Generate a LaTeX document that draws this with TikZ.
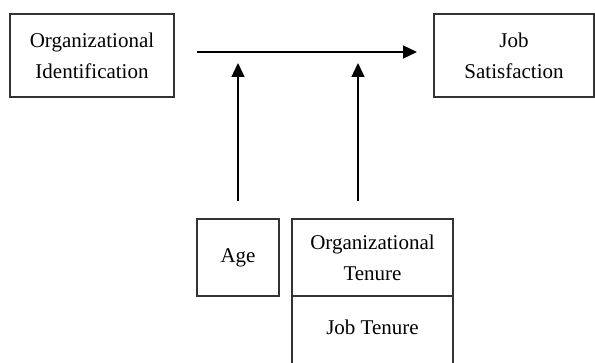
\documentclass[tikz,border=0pt]{standalone}
\usepackage{fontspec}
\setmainfont{Liberation Serif}
\usetikzlibrary{arrows.meta}

\begin{document}
\begin{tikzpicture}[
   x=1pt,
   y=-1pt,
   every node/.style={font=\fontsize{21}{31}\selectfont,align=center,inner sep=0pt},
   box/.style={draw=black!80,line width=1.4pt,outer sep=0pt},
   arr/.style={-{Triangle[length=14pt,width=13pt]},line width=1.3pt}
 ]
   \useasboundingbox (0,0) rectangle (595,363);

   % The two constructs along the top row.
   \node[box,minimum width=164pt,minimum height=83pt] (orgid) at (92,55.5)
     {Organizational\\Identification};
   \node[box,minimum width=160pt,minimum height=83pt] (jobsat) at (514,55.5)
     {Job\\Satisfaction};

   % Moderators underneath.
   \node[box,minimum width=82pt,minimum height=77pt] (age) at (238,257.5) {Age};
   \node[box,minimum width=161pt,minimum height=77pt] (orgten) at (372.5,257.5)
     {Organizational\\Tenure};
   \node (jobten) at (372.5,327) {Job Tenure};
   \draw[box] (orgten.south west) -- (orgten.south west |- 0,363);
   \draw[box] (orgten.south east) -- (orgten.south east |- 0,363);

   % Main effect and the two moderating arrows.
   \coordinate (mainrow) at (0,52);
   \coordinate (tenfoot) at (358,219);
   \draw[arr,shorten <=23pt,shorten >=17pt] (orgid.east |- mainrow) -- (jobsat.west |- mainrow);
   \draw[arr,shorten <=18pt,shorten >=11pt] (age.north) -- (age.north |- mainrow);
   \draw[arr,shorten <=18pt,shorten >=11pt] (tenfoot) -- (tenfoot |- mainrow);
 \end{tikzpicture}
\end{document}
